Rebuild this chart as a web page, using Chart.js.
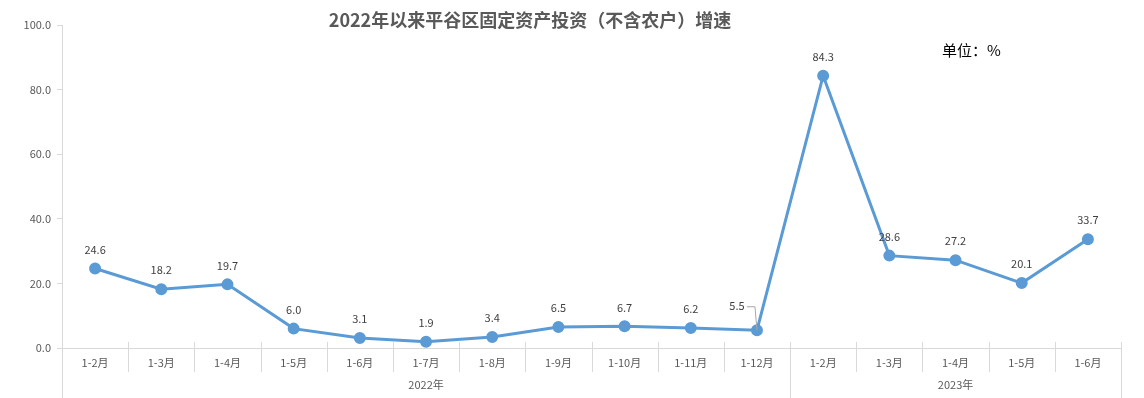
<!DOCTYPE html>
<html>
<head>
<meta charset="utf-8">
<script src="https://cdn.jsdelivr.net/npm/chart.js@4/dist/chart.umd.min.js"></script>
<style>
  body { margin: 0; background: #fff; }
  #wrap { width: 1144px; height: 398px; position: relative; }
</style>
</head>
<body>
<div id="wrap"><canvas id="myChart" width="1144" height="398"></canvas></div>
<script>
const months = ['1-2月', '1-3月', '1-4月', '1-5月', '1-6月', '1-7月', '1-8月', '1-9月', '1-10月', '1-11月', '1-12月',
                '1-2月', '1-3月', '1-4月', '1-5月', '1-6月'];
const years = ['2022年', '2023年'];
const yearSizes = [11, 5];
const growth = [24.6, 18.2, 19.7, 6.0, 3.1, 1.9, 3.4, 6.5, 6.7, 6.2, 5.5, 84.3, 28.6, 27.2, 20.1, 33.7];
const yTicks = [0, 20, 40, 60, 80, 100];

const titleText = '2022年以来平谷区固定资产投资（不含农户）增速';
const unitText = '单位：%';
const fontFam = '"Noto Sans CJK SC", "Liberation Sans", sans-serif';
const gridColor = '#d9d9d9';
const textColor = '#595959';

// Beschriftungen, Achse mit zwei Ebenen, Titel
const decoPlugin = {
  id: 'deco',
  afterDraw(chart) {
    const ctx = chart.ctx;
    const x = chart.scales.x;
    const y = chart.scales.y;
    const area = chart.chartArea;
    const y0 = y.getPixelForValue(0);
    const step = (area.right - area.left) / months.length;
    const H = chart.height;

    ctx.save();
    // x-Achse
    ctx.strokeStyle = gridColor;
    ctx.lineWidth = 1;
    ctx.beginPath();
    ctx.moveTo(area.left, y0 + 0.5);
    ctx.lineTo(area.right, y0 + 0.5);
    // y-Achse nach unten verlängern
    ctx.moveTo(area.left + 0.5, y0);
    ctx.lineTo(area.left + 0.5, H);
    ctx.stroke();

    // Trennstriche
    let boundaries = [];
    let acc = 0;
    for (const s of yearSizes) { acc += s; boundaries.push(acc); }
    for (let i = 1; i <= months.length; i++) {
      const px = Math.round(area.left + step * i) + 0.5;
      ctx.beginPath();
      ctx.moveTo(px, y0 - 6);
      ctx.lineTo(px, boundaries.includes(i) ? H : y0 + 24);
      ctx.stroke();
    }

    // Monatsbeschriftung
    ctx.fillStyle = textColor;
    ctx.font = '11px ' + fontFam;
    ctx.textAlign = 'center';
    ctx.textBaseline = 'middle';
    months.forEach((m, i) => {
      ctx.fillText(m, x.getPixelForValue(i), y0 + 15);
    });
    // Jahre
    let start = 0;
    years.forEach((yr, k) => {
      const a = area.left + step * start;
      const b = area.left + step * (start + yearSizes[k]);
      ctx.fillText(yr, (a + b) / 2, y0 + 37);
      start += yearSizes[k];
    });

    // Datenbeschriftungen
    const meta = chart.getDatasetMeta(0);
    ctx.fillStyle = '#404040';
    ctx.font = '11px ' + fontFam;
    meta.data.forEach((pt, i) => {
      if (i === 10) {
        const lx = pt.x - 20;
        const ly = pt.y - 24;
        ctx.fillText(growth[i].toFixed(1), lx, ly);
        ctx.strokeStyle = '#a6a6a6';
        ctx.beginPath();
        ctx.moveTo(lx + 10, ly + 0.5);
        ctx.lineTo(pt.x - 2, ly + 0.5);
        ctx.lineTo(pt.x, pt.y);
        ctx.stroke();
      } else {
        ctx.fillText(growth[i].toFixed(1), pt.x, pt.y - 19);
      }
    });

    // Titel
    ctx.fillStyle = textColor;
    ctx.font = 'bold 18px "Noto Sans CJK SC", sans-serif';
    ctx.fillText(titleText, 530, 20);
    ctx.fillStyle = '#000';
    ctx.font = '15px "Noto Sans CJK SC", sans-serif';
    ctx.textAlign = 'left';
    ctx.fillText(unitText, 942, 50);
    ctx.restore();
  }
};

const canvas = document.getElementById('myChart');
new Chart(canvas, {
  type: 'line',
  data: {
    labels: months.map((m, i) => i < yearSizes[0] ? years[0] + m : years[1] + m),
    datasets: [{
      data: growth,
      borderColor: '#5b9bd5',
      backgroundColor: '#5b9bd5',
      borderWidth: 3,
      pointRadius: 4.5,
      pointHoverRadius: 4.5,
      tension: 0
    }]
  },
  options: {
    responsive: false,
    animation: false,
    devicePixelRatio: 1,
    layout: { padding: { top: 25, right: 23, bottom: 50, left: 0 } },
    plugins: {
      legend: { display: false },
      tooltip: { enabled: false }
    },
    scales: {
      x: {
        type: 'category',
        offset: true,
        display: false
      },
      y: {
        min: 0,
        max: 100,
        afterBuildTicks(scale) { scale.ticks = yTicks.map(v => ({ value: v })); },
        afterFit(scale) { scale.width = 62; },
        ticks: {
          color: textColor,
          font: { size: 11, family: fontFam },
          padding: 6,
          callback: v => Number(v).toFixed(1)
        },
        grid: { drawOnChartArea: false, tickLength: 5, color: gridColor },
        border: { color: gridColor }
      }
    }
  },
  plugins: [decoPlugin]
});
</script>
</body>
</html>
